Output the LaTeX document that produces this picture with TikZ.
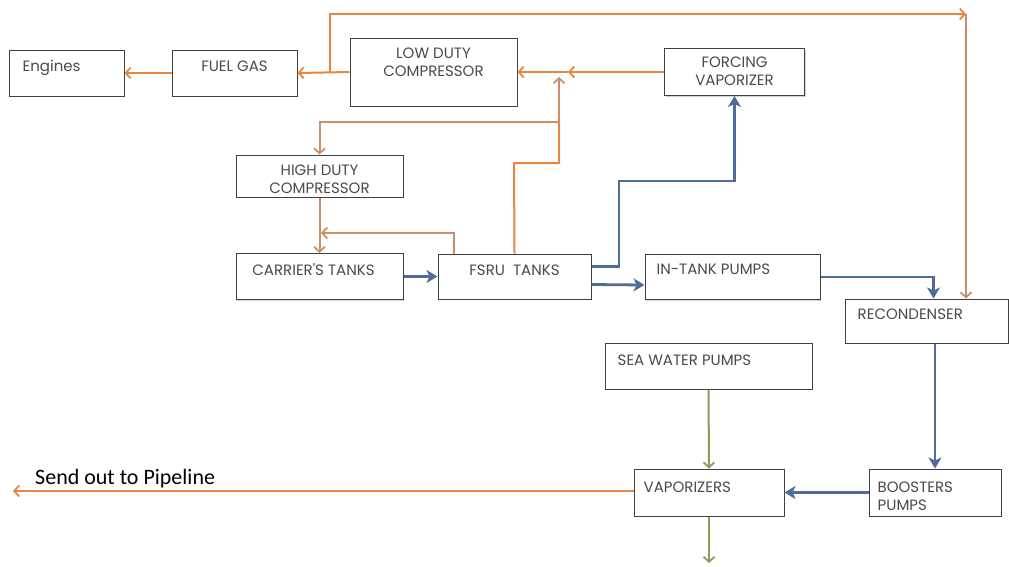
\documentclass[tikz,border=0pt]{standalone}
\usepackage{fontspec}
\setmainfont{Poppins}
\newfontfamily\calfont{Carlito}
\usetikzlibrary{arrows.meta,shadows}
\definecolor{org}{HTML}{E5873E}
\definecolor{tanc}{HTML}{C8916A}
\definecolor{blu}{HTML}{4F6D96}
\definecolor{grn}{HTML}{8C9A5E}
\definecolor{txt}{HTML}{4A4A4A}
\newcommand{\lbl}{\fontsize{15}{18}\selectfont\color{txt}}
\begin{document}
\begin{tikzpicture}[x=1pt,y=-1pt,
  box/.style={draw=black!75, line width=1pt, fill=white, inner sep=0pt,
    drop shadow={shadow xshift=1.2pt, shadow yshift=-1.2pt, opacity=0.35}},
  tl/.style 2 args={label={[anchor=north west,inner sep=0pt,xshift=#2,yshift=-10pt,font=\lbl]north west:#1}},
  tc/.style 2 args={label={[anchor=north,inner sep=0pt,align=center,yshift=#2,font=\lbl]north:#1}},
  oline/.style={draw=org, line width=2pt},
  tline/.style={draw=tanc, line width=2pt},
  bline/.style={draw=blu, line width=2.8pt},
  gline/.style={draw=grn, line width=2pt},
  barb/.style={-{Straight Barb[length=5pt,width=11pt,line width=1.8pt]}},
  stl/.style={-{Stealth[length=11pt,width=13pt,inset=3pt]}}
]
\useasboundingbox (0,0) rectangle (1009,566);
% boxes
\node[box, minimum width=115pt, minimum height=46pt, tl={Engines}{14pt}] (eng) at (66.5,73) {};
\node[box, minimum width=125pt, minimum height=46pt, tc={FUEL GAS}{-11pt}] (fuel) at (234.5,73) {};
\node[box, minimum width=167pt, minimum height=68pt, tc={LOW DUTY\\COMPRESSOR}{-10pt}] (ldc) at (433.5,72) {};
\node[box, minimum width=140pt, minimum height=47pt, tc={FORCING\\VAPORIZER}{-9pt}] (fv) at (734.5,72) {};
\node[box, minimum width=167pt, minimum height=42pt, tc={HIGH DUTY\\COMPRESSOR}{-10pt}] (hdc) at (319.5,176) {};
\node[box, minimum width=167pt, minimum height=46pt,
  label={[anchor=north,inner sep=0pt,xshift=-6pt,yshift=-10pt,font=\lbl]north:CARRIER\textquotesingle S TANKS}] (ct) at (319.5,276.5) {};
\node[box, minimum width=153pt, minimum height=45pt, tc={FSRU\ \ TANKS}{-11pt}] (fsru) at (514.5,276.5) {};
\node[box, minimum width=175pt, minimum height=45pt, tl={IN-TANK PUMPS}{12pt}] (itp) at (732.5,277) {};
\node[box, minimum width=163pt, minimum height=44pt, tl={RECONDENSER}{13pt}] (rec) at (926.5,321) {};
\node[box, minimum width=207pt, minimum height=46pt,
  label={[anchor=north west,inner sep=0pt,xshift=13pt,yshift=-12pt,font=\lbl]north west:SEA WATER PUMPS}] (swp) at (708.5,366) {};
\node[box, minimum width=150pt, minimum height=47pt,
  label={[anchor=north west,inner sep=0pt,xshift=10pt,yshift=-13pt,font=\lbl]north west:VAPORIZERS}] (vap) at (709,492.5) {};
\node[box, minimum width=132pt, minimum height=47pt,
  label={[anchor=north west,inner sep=0pt,xshift=9pt,yshift=-13pt,align=left,font=\lbl]north west:BOOSTERS\\PUMPS}] (boo) at (935,492.5) {};
\node[anchor=west, inner sep=0pt, font=\calfont\fontsize{22}{24}\selectfont] (sendlbl) at (35,479) {Send out to Pipeline};
% coordinates
\coordinate (j0) at (330,72);
\coordinate (tl0) at (330,14);
\coordinate (tr) at (966,14);
\coordinate (j1) at (559,72);
\coordinate (j1a) at (568,72);
\coordinate (j2) at (559,122);
\coordinate (j3) at (514,163);
\coordinate (j4) at (454,233);
\coordinate (j5) at (321,233);
\coordinate (j6) at (619,181);
\coordinate (out1) at (709,563);
\coordinate (out2) at (13,491);
% orange / tan connectors
\draw[oline,barb] (ldc.west) -- (fuel.east);
\draw[oline,barb] (fuel.west) -- (eng.east);
\draw[oline,barb] (j0) -- (tl0) -- (tr);
\draw[tline,barb] (tr) -- (tr |- rec.north);
\draw[oline,barb] (fv.west) -- (j1a);
\draw[oline,barb] (j1a) -- (ldc.east);
\draw[tline,barb,shorten >=5pt] (j2) -- (j1);
\draw[tline,barb] (j2) -| (hdc.north);
\draw[oline] (fsru.north) -- (j3) -| (j2);
\draw[tline,barb] (fsru.north -| j4) -- (j4) -- (j5);
\draw[tline,barb] (hdc.south) -- (ct.north);
\draw[oline,barb] (vap.west |- out2) -- (out2);
% blue connectors
\draw[bline,stl] (ct.east) -- (fsru.west);
\draw[bline,stl] ([yshift=-8pt]fsru.east) -- ([yshift=-8pt]itp.west);
\draw[bline,stl] ([yshift=10pt]fsru.east) -| (j6) -| (fv.south);
\draw[bline,stl] (itp.east) -| ([xshift=7pt]rec.north);
\draw[bline,stl] (boo.north |- rec.south) -- (boo.north);
\draw[bline,stl] (boo.west) -- (vap.east);
% green connectors
\draw[gline,barb] (swp.south) -- (vap.north);
\draw[gline,barb] (vap.south) -- (out1);
\end{tikzpicture}
\end{document}
